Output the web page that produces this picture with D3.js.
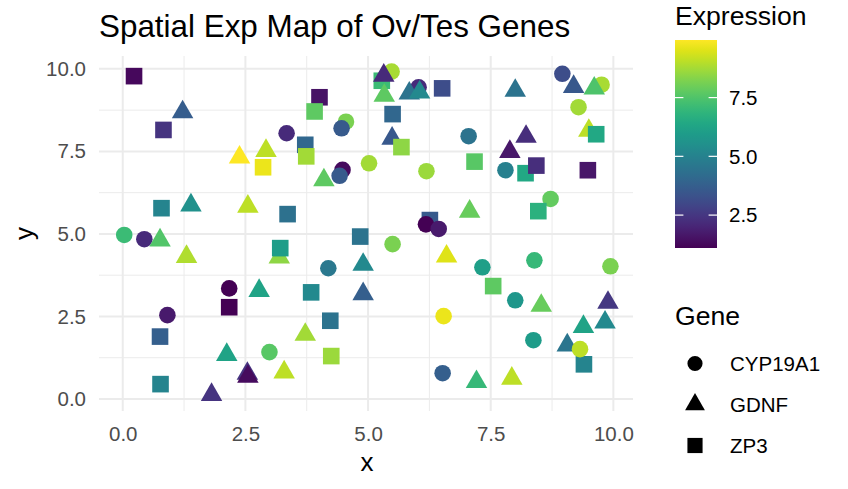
<!DOCTYPE html>
<html>
<head>
<meta charset="utf-8">
<script src="https://cdn.jsdelivr.net/npm/d3@7"></script>
<style>
  body { margin: 0; background: #fff; }
  text { font-family: "Liberation Sans", Arial, sans-serif; }
</style>
</head>
<body>
<div id="chart"></div>
<script>
// points, in drawing order (later ones sit on top)
var gene = ["ZP3","GDNF","ZP3","ZP3","ZP3","CYP19A1","CYP19A1","CYP19A1","ZP3","ZP3",
  "GDNF","GDNF","ZP3","CYP19A1","CYP19A1","GDNF","CYP19A1","ZP3","GDNF","GDNF",
  "ZP3","CYP19A1","CYP19A1","GDNF","ZP3","GDNF","GDNF","ZP3","CYP19A1","GDNF",
  "CYP19A1","GDNF","ZP3","ZP3","GDNF","CYP19A1","ZP3","ZP3","GDNF","ZP3",
  "GDNF","CYP19A1","GDNF","GDNF","GDNF","ZP3","GDNF","ZP3","CYP19A1","GDNF",
  "GDNF","CYP19A1","GDNF","GDNF","ZP3","GDNF","CYP19A1","GDNF","CYP19A1","GDNF",
  "CYP19A1","ZP3","GDNF","ZP3","GDNF","CYP19A1","GDNF","ZP3","GDNF","ZP3",
  "CYP19A1","ZP3","ZP3","ZP3","CYP19A1","CYP19A1","GDNF","ZP3","ZP3","CYP19A1",
  "CYP19A1","CYP19A1","GDNF","CYP19A1","CYP19A1","CYP19A1","ZP3","CYP19A1","GDNF","GDNF",
  "CYP19A1","GDNF","GDNF","CYP19A1","GDNF","ZP3","CYP19A1","CYP19A1","GDNF","GDNF"];
var xs = [0.23,1.22,0.83,4.01,3.91,4.55,4.46,3.34,3.72,3.74,
  2.38,2.92,2.86,4.48,4.42,4.10,5.02,0.79,1.39,2.55,
  3.36,0.03,0.44,0.76,4.84,1.30,3.19,3.21,4.19,4.90,
  2.17,2.78,2.17,3.84,4.90,0.91,0.76,4.23,3.72,4.25,
  2.12,2.99,3.29,2.54,2.55,0.77,1.81,5.28,5.48,5.32,
  5.33,6.03,5.84,6.05,6.51,8.00,8.96,9.19,9.76,9.61,
  9.29,5.50,9.50,9.65,5.49,7.05,8.22,5.68,7.89,7.17,
  7.80,8.21,8.43,9.48,6.19,8.72,7.07,8.47,6.26,6.18,
  6.44,5.50,6.60,7.33,8.39,9.94,7.55,8.00,8.53,9.89,
  6.54,9.39,9.83,8.37,9.06,9.40,9.32,6.52,7.21,7.93];
var ys = [9.78,8.69,8.15,9.14,8.71,8.40,8.20,8.05,7.70,7.35,
  7.32,7.52,7.02,6.94,6.76,6.63,7.14,5.78,5.87,5.83,
  5.60,4.97,4.84,4.81,4.92,4.31,4.29,4.57,3.96,4.07,
  3.35,3.28,2.78,3.23,3.18,2.54,1.89,2.37,1.95,1.30,
  1.34,1.42,0.81,0.77,0.68,0.45,0.13,9.64,9.92,9.80,
  9.19,9.44,9.26,9.29,9.41,9.34,9.85,9.46,9.52,9.41,
  8.84,8.63,8.13,8.02,7.89,7.96,7.95,7.63,7.49,7.19,
  6.93,6.84,7.07,6.93,6.90,6.06,5.68,5.69,5.42,5.29,
  5.15,4.69,4.32,3.99,4.20,4.02,3.42,2.99,2.83,2.92,
  2.51,2.19,2.32,1.78,1.63,1.05,1.51,0.78,0.52,0.62];
var expression = [1.30,3.66,2.43,1.54,7.74,8.18,3.58,2.16,4.02,8.71,
  9.95,9.07,9.68,1.37,3.58,7.74,8.71,5.08,5.53,9.07,
  4.37,7.12,2.16,7.56,4.46,8.89,8.45,6.00,4.64,5.26,
  1.10,6.23,1.10,5.26,3.76,1.72,3.76,4.46,8.71,8.62,
  6.23,7.65,9.07,2.43,1.37,5.08,2.43,7.12,8.80,2.16,
  7.74,2.16,4.46,5.26,3.14,4.46,3.14,3.49,8.80,7.47,
  8.71,4.02,9.07,6.41,3.49,4.46,2.25,8.45,1.63,7.65,
  4.91,6.41,2.25,1.63,8.62,7.83,7.91,6.76,3.58,1.10,
  1.72,8.18,9.51,6.06,7.03,8.18,7.74,5.79,7.91,2.52,
  9.68,6.23,5.26,5.97,4.55,5.08,9.07,3.76,7.03,9.07];

var genes = ["CYP19A1", "GDNF", "ZP3"];
var axisTicks = [0, 2.5, 5, 7.5, 10];
var minorTicks = [1.25, 3.75, 6.25, 8.75];
var colorTicks = [2.5, 5, 7.5];

var W = 848, H = 489;
var svg = d3.select("#chart").append("svg").attr("width", W).attr("height", H);

var x = d3.scaleLinear().domain([-0.484, 10.40]).range([99, 633]);
var y = d3.scaleLinear().domain([-0.364, 10.39]).range([411, 56]);
var ext = d3.extent(expression);
var color = d3.scaleSequential(d3.interpolateViridis).domain(ext);

var shapeOf = d3.scaleOrdinal().domain(genes)
  .range([d3.symbolCircle, d3.symbolTriangle, d3.symbolSquare]);
var plotSize = d3.scaleOrdinal().domain(genes).range([216, 200, 276]);
var keySize = d3.scaleOrdinal().domain(genes).range([180, 170, 230]);

// grid
var grid = svg.append("g");
grid.selectAll(".vmin").data(minorTicks).enter().append("line")
  .attr("x1", d => x(d)).attr("x2", d => x(d)).attr("y1", 56).attr("y2", 411)
  .attr("stroke", "#ebebeb").attr("stroke-width", 1);
grid.selectAll(".hmin").data(minorTicks).enter().append("line")
  .attr("y1", d => y(d)).attr("y2", d => y(d)).attr("x1", 99).attr("x2", 633)
  .attr("stroke", "#ebebeb").attr("stroke-width", 1);
grid.selectAll(".vmaj").data(axisTicks).enter().append("line")
  .attr("x1", d => x(d)).attr("x2", d => x(d)).attr("y1", 56).attr("y2", 411)
  .attr("stroke", "#ebebeb").attr("stroke-width", 2);
grid.selectAll(".hmaj").data(axisTicks).enter().append("line")
  .attr("y1", d => y(d)).attr("y2", d => y(d)).attr("x1", 99).attr("x2", 633)
  .attr("stroke", "#ebebeb").attr("stroke-width", 2);

// axes (labels only, like theme_minimal)
var xAxis = svg.append("g").attr("transform", "translate(0,411)")
  .call(d3.axisBottom(x).tickValues(axisTicks).tickFormat(d3.format(".1f")).tickSize(0).tickPadding(15));
var yAxis = svg.append("g").attr("transform", "translate(99,0)")
  .call(d3.axisLeft(y).tickValues(axisTicks).tickFormat(d3.format(".1f")).tickSize(0).tickPadding(13));
[xAxis, yAxis].forEach(function (a) {
  a.select(".domain").remove();
  a.selectAll("text").attr("font-size", 20.5).attr("fill", "#4d4d4d")
    .attr("font-family", "Liberation Sans, Arial, sans-serif");
});

// points
var idx = d3.range(xs.length);
svg.append("g").selectAll("path").data(idx).enter().append("path")
  .attr("transform", i => "translate(" + x(xs[i]) + "," + y(ys[i]) + ")")
  .attr("d", i => d3.symbol().type(shapeOf(gene[i])).size(plotSize(gene[i]))())
  .attr("fill", i => color(expression[i]));

// titles
svg.append("text").attr("x", 99).attr("y", 37).attr("font-size", 31.4).text("Spatial Exp Map of Ov/Tes Genes");
svg.append("text").attr("x", 367).attr("y", 471).attr("font-size", 26)
  .attr("text-anchor", "middle").text("x");
svg.append("text").attr("transform", "translate(33,233.5) rotate(-90)").attr("font-size", 26)
  .attr("text-anchor", "middle").text("y");

// colour bar
var cb = svg.append("g");
var cy = d3.scaleLinear().domain(ext).range([248, 40]);
var grad = svg.append("defs").append("linearGradient").attr("id", "vir")
  .attr("x1", 0).attr("y1", 1).attr("x2", 0).attr("y2", 0);
grad.selectAll("stop").data(d3.range(0, 1.0001, 0.05)).enter().append("stop")
  .attr("offset", d => d).attr("stop-color", d => d3.interpolateViridis(d));
cb.append("rect").attr("x", 675).attr("y", 40).attr("width", 42).attr("height", 208)
  .attr("fill", "url(#vir)");
cb.selectAll(".tl").data(colorTicks).enter().append("line")
  .attr("x1", 675).attr("x2", 683.4).attr("y1", d => cy(d)).attr("y2", d => cy(d))
  .attr("stroke", "#fff").attr("stroke-width", 1.2);
cb.selectAll(".tr").data(colorTicks).enter().append("line")
  .attr("x1", 708.6).attr("x2", 717).attr("y1", d => cy(d)).attr("y2", d => cy(d))
  .attr("stroke", "#fff").attr("stroke-width", 1.2);
cb.selectAll(".lab").data(colorTicks).enter().append("text")
  .attr("x", 729).attr("y", d => cy(d) + 7.4).attr("font-size", 20.5)
  .text(d => d3.format(".1f")(d));
svg.append("text").attr("x", 675).attr("y", 25).attr("font-size", 26.6).text("Expression");

// shape legend
svg.append("text").attr("x", 675).attr("y", 325).attr("font-size", 26.6).text("Gene");
var keyY = d3.scalePoint().domain(genes).range([363.5, 445.5]);
var keys = svg.append("g").selectAll("g").data(genes).enter().append("g")
  .attr("transform", d => "translate(0," + keyY(d) + ")");
keys.append("path").attr("transform", "translate(695,0)")
  .attr("d", d => d3.symbol().type(shapeOf(d)).size(keySize(d))()).attr("fill", "#000");
keys.append("text").attr("x", 730).attr("y", 7.3).attr("font-size", 20.5).text(d => d);
</script>
</body>
</html>
